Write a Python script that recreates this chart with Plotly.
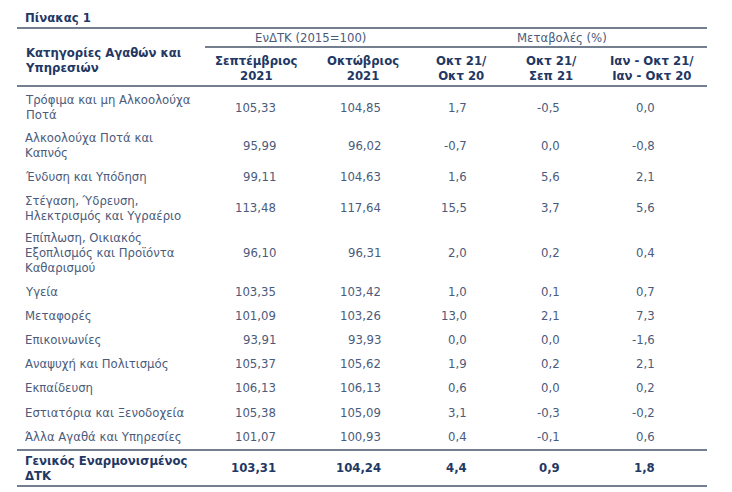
import plotly.graph_objects as go

# ---------------- data ----------------
title = "Πίνακας 1"
group_titles = ["ΕνΔΤΚ (2015=100)", "Μεταβολές (%)"]
stub_header = "Κατηγορίες Αγαθών και<br>Υπηρεσιών"
col_headers = ["Σεπτέμβριος<br>2021", "Οκτώβριος<br>2021", "Οκτ 21/<br>Οκτ 20",
               "Οκτ 21/<br>Σεπ 21", "Ιαν - Οκτ 21/<br>Ιαν - Οκτ 20"]

categories = [
    "Τρόφιμα και μη Αλκοολούχα<br>Ποτά",
    "Αλκοολούχα Ποτά και<br>Καπνός",
    "Ένδυση και Υπόδηση",
    "Στέγαση, Ύδρευση,<br>Ηλεκτρισμός και Υγραέριο",
    "Επίπλωση, Οικιακός<br>Εξοπλισμός και Προϊόντα<br>Καθαρισμού",
    "Υγεία",
    "Μεταφορές",
    "Επικοινωνίες",
    "Αναψυχή και Πολιτισμός",
    "Εκπαίδευση",
    "Εστιατόρια και Ξενοδοχεία",
    "Άλλα Αγαθά και Υπηρεσίες",
]
sep21 = [105.33, 95.99, 99.11, 113.48, 96.10, 103.35, 101.09, 93.91, 105.37, 106.13, 105.38, 101.07]
oct21 = [104.85, 96.02, 104.63, 117.64, 96.31, 103.42, 103.26, 93.93, 105.62, 106.13, 105.09, 100.93]
oct21_oct20 = [1.7, -0.7, 1.6, 15.5, 2.0, 1.0, 13.0, 0.0, 1.9, 0.6, 3.1, 0.4]
oct21_sep21 = [-0.5, 0.0, 5.6, 3.7, 0.2, 0.1, 2.1, 0.0, 0.2, 0.0, -0.3, -0.1]
ytd_change = [0.0, -0.8, 2.1, 5.6, 0.4, 0.7, 7.3, -1.6, 2.1, 0.2, -0.2, 0.6]

total_label = "Γενικός Εναρμονισμένος<br>ΔΤΚ"
total_values = [103.31, 104.24, 4.4, 0.9, 1.8]
decimals = [2, 2, 1, 1, 1]

# ---------------- styling / layout ----------------
W, H = 732, 492
PAGE_OFFSET = 8          # default body margin of the html page
FONT = "DejaVu Sans"
FS = 11.7
NAVY = "#1f3864"
BODY = "#4b5b7b"
LINE = "#44546a"

x_left, x_right = 17, 707
stub_x = 24
col_right = [277, 382, 468, 561, 656]      # right edges of numbers
col_center = [256, 363, 461, 551, 652]     # header centres

def fmt(v, d):
    return f"{v:.{d}f}".replace(".", ",")

ann = []
shapes = []

def hline(y, x0=x_left, x1=x_right):
    shapes.append(dict(type="line", xref="x", yref="y", x0=x0, x1=x1, y0=y, y1=y,
                       line=dict(color=LINE, width=1.5)))

def text(x, y, s, color=BODY, bold=False, xanchor="left", align="left"):
    ann.append(dict(x=x, y=y, xref="x", yref="y", text=(f"<b>{s}</b>" if bold else s),
                    showarrow=False, xanchor=xanchor, yanchor="middle", align=align,
                    borderpad=0, font=dict(family=FONT, size=FS, color=color)))

# title
text(stub_x, 18, title, color=NAVY, bold=True)
hline(28)

# group headers
text(310, 38, group_titles[0], xanchor="center", align="center")
text(562, 38, group_titles[1], xanchor="center", align="center")
hline(47, x0=205)

# column headers
text(stub_x, 60, stub_header, color=NAVY, bold=True)
for cx, h in zip(col_center, col_headers):
    text(cx, 68, h, color=NAVY, bold=True, xanchor="center", align="center")
hline(86)

# body rows
base, lh = 10.2, 14.0
y = 107.5 - (base + lh * (categories[0].count("<br>") + 1)) / 2
series = [sep21, oct21, oct21_oct20, oct21_sep21, ytd_change]
for i, cat in enumerate(categories):
    n = cat.count("<br>") + 1
    h = base + lh * n
    yc = y + h / 2
    text(stub_x, yc, cat)
    for j, s in enumerate(series):
        text(col_right[j], yc, fmt(s[i], decimals[j]), xanchor="right", align="right")
    y += h

hline(450)
text(stub_x, 468, total_label, color=NAVY, bold=True)
for j, v in enumerate(total_values):
    text(col_right[j], 468, fmt(v, decimals[j]), color=NAVY, bold=True, xanchor="right", align="right")
hline(486)

fig = go.Figure()
fig.update_layout(
    width=W - PAGE_OFFSET, height=H - PAGE_OFFSET, margin=dict(l=0, r=0, t=0, b=0),
    paper_bgcolor="white", plot_bgcolor="white",
    xaxis=dict(range=[PAGE_OFFSET, W], visible=False, fixedrange=True),
    yaxis=dict(range=[H, PAGE_OFFSET], visible=False, fixedrange=True),
    annotations=ann, shapes=shapes, showlegend=False,
)
fig.write_html("out.html", config={"displayModeBar": False})
